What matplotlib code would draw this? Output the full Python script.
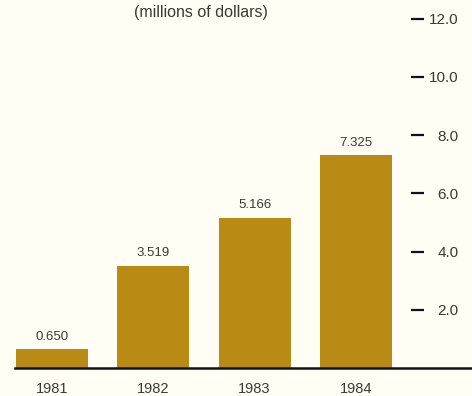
import matplotlib
matplotlib.use("Agg")
import matplotlib.pyplot as plt

years = ["1981", "1982", "1983", "1984"]
values = [0.650, 3.519, 5.166, 7.325]
value_labels = ["0.650", "3.519", "5.166", "7.325"]
ticks = [2.0, 4.0, 6.0, 8.0, 10.0, 12.0]
tick_labels = ["2.0", "4.0", "6.0", "8.0", "10.0", "12.0"]

bar_color = "#B98A14"
bg = "#FFFDF4"
text_color = "#3a3a34"

plt.rcParams['font.family'] = ['Liberation Sans', 'DejaVu Sans']

fig = plt.figure(figsize=(4.72, 3.96), dpi=100, facecolor=bg)
ax = fig.add_axes([0, 0, 411 / 472, 1])
ax.set_facecolor(bg)

x = list(range(len(years)))
ax.bar(x, values, width=0.71, color=bar_color, zorder=2)

for xi, v, lab in zip(x, values, value_labels):
    ax.annotate(lab, (xi, v), xytext=(0, 4.5), textcoords="offset points",
                ha="center", va="bottom", fontsize=9.5, color=text_color)

for xi, yr in zip(x, years):
    ax.annotate(yr, (xi, 0), xytext=(0, -15), textcoords="offset points",
                ha="center", va="center", fontsize=10.5, color=text_color)

ax.set_xlim(-0.513, 3.544)
ax.set_ylim(-0.962, 12.646)

# baseline running out to the right edge
ax.axhline(0, xmin=(-0.36 + 0.513) / 4.057, xmax=472 / 411, color="#111111",
           linewidth=1.8, clip_on=False, zorder=3)

for s in ax.spines.values():
    s.set_visible(False)
ax.set_xticks([])
ax.yaxis.tick_right()
ax.set_yticks(ticks)
ax.set_yticklabels(tick_labels)
ax.tick_params(axis="y", direction="out", length=9.4, width=1.6, color="#111111",
               pad=25, labelsize=11, labelcolor=text_color)
for t in ax.get_yticklabels():
    t.set_horizontalalignment("right")

fig.text(201 / 472, 1 - 13 / 396, "(millions of dollars)", ha="center", va="center",
         fontsize=11.5, color=text_color)

fig.savefig("out.png", dpi=100, facecolor=bg)
